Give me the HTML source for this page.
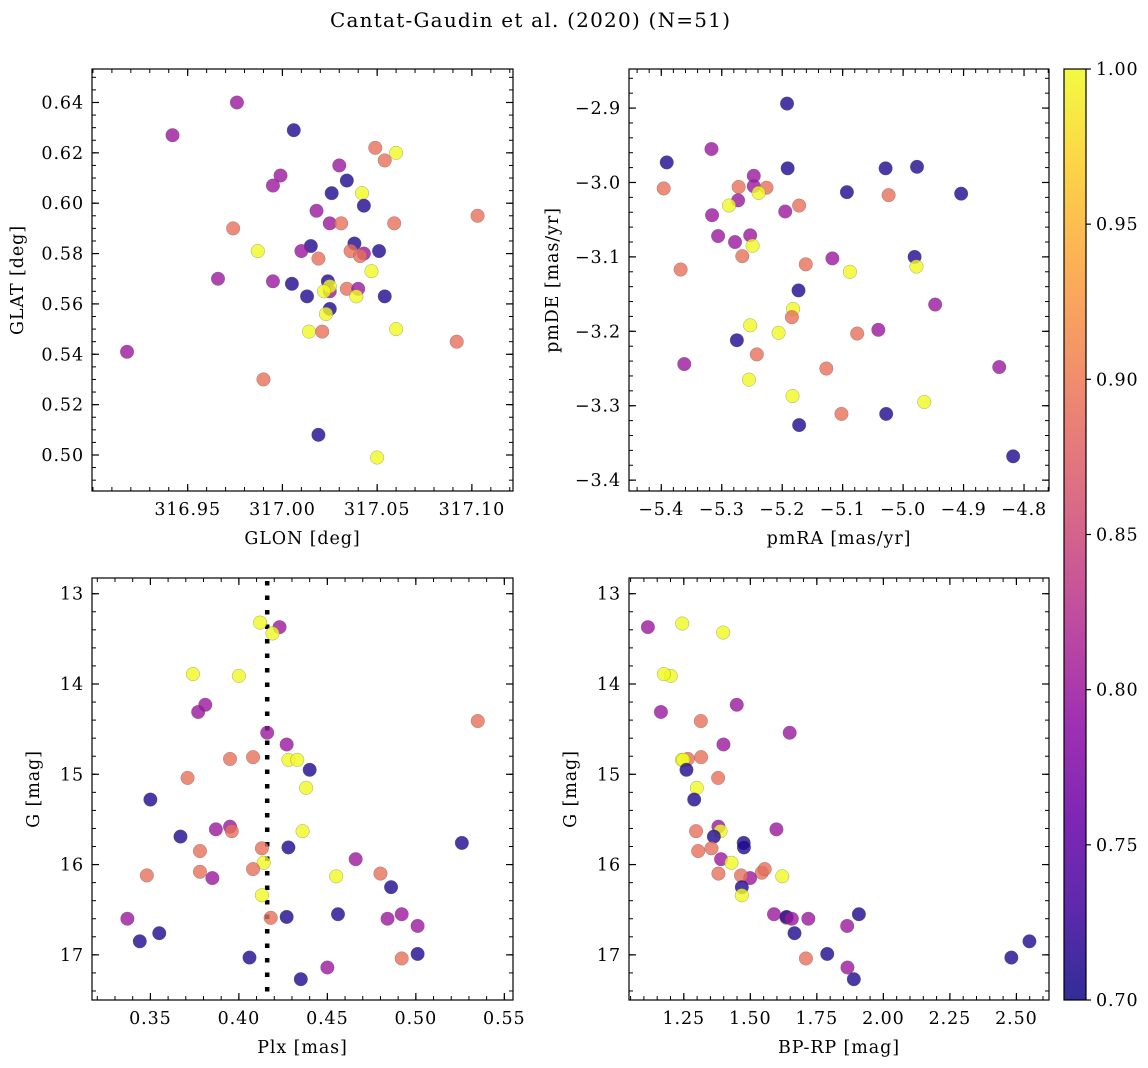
<!DOCTYPE html>
<html><head><meta charset="utf-8"><style>
html,body{margin:0;padding:0;background:#fff}
svg{display:block;font-family:"DejaVu Serif","Liberation Serif",serif}
</style></head><body>
<svg id="fig" width="1148" height="1068" viewBox="0 0 1148 1068" xmlns="http://www.w3.org/2000/svg">
<text x="530" y="27" text-anchor="middle" font-size="20" textLength="400" lengthAdjust="spacing">Cantat-Gaudin et al. (2020) (N=51)</text>
</svg>
<script>
// Panel 1: GLON / GLAT
const glon=[316.976,316.942,317.006,317.049,317.060,317.054,317.030,317.034,316.999,316.995,317.026,317.042,317.043,317.018,317.103,317.025,317.031,317.059,316.974,317.015,317.038,316.987,317.010,317.036,317.043,317.041,317.051,317.019,317.047,316.966,316.995,317.005,317.024,317.025,317.025,317.022,317.013,317.034,317.040,317.039,317.054,317.025,317.023,317.014,317.021,317.060,317.092,316.918,316.990,317.019,317.050];
const glat=[0.640,0.627,0.629,0.622,0.620,0.617,0.615,0.609,0.611,0.607,0.604,0.604,0.599,0.597,0.595,0.592,0.592,0.592,0.590,0.583,0.584,0.581,0.581,0.581,0.580,0.579,0.581,0.578,0.573,0.570,0.569,0.568,0.569,0.565,0.567,0.565,0.563,0.566,0.566,0.563,0.563,0.558,0.556,0.549,0.549,0.550,0.545,0.541,0.530,0.508,0.499];
const probA=[0.80,0.80,0.71,0.89,1.0,0.89,0.80,0.71,0.80,0.80,0.71,1.0,0.71,0.80,0.89,0.80,0.89,0.89,0.89,0.71,0.71,1.0,0.80,0.89,0.80,0.89,0.71,0.89,1.0,0.80,0.80,0.71,0.71,0.80,1.0,1.0,0.71,0.89,0.80,1.0,0.71,0.71,1.0,1.0,0.89,1.0,0.89,0.80,0.89,0.71,1.0];
// Panel 2: pmRA / pmDE
const pmra=[-5.192,-5.317,-5.391,-5.191,-5.029,-4.977,-5.396,-5.247,-5.247,-5.272,-5.226,-5.239,-5.273,-5.288,-5.093,-4.904,-5.024,-5.172,-5.195,-5.316,-5.306,-5.278,-5.253,-5.249,-5.266,-4.981,-4.978,-5.368,-5.161,-5.117,-5.088,-5.173,-4.947,-5.182,-5.184,-5.253,-5.206,-5.076,-5.041,-5.275,-5.242,-5.362,-5.127,-4.841,-5.255,-5.183,-4.965,-5.102,-5.028,-5.172,-4.818];
const pmde=[-2.894,-2.955,-2.973,-2.981,-2.981,-2.979,-3.008,-2.991,-3.005,-3.006,-3.007,-3.014,-3.024,-3.031,-3.013,-3.015,-3.017,-3.031,-3.039,-3.044,-3.072,-3.080,-3.071,-3.085,-3.099,-3.100,-3.113,-3.117,-3.110,-3.102,-3.120,-3.145,-3.164,-3.170,-3.181,-3.192,-3.202,-3.203,-3.198,-3.212,-3.231,-3.244,-3.250,-3.248,-3.265,-3.287,-3.295,-3.311,-3.311,-3.326,-3.368];
const probB=[0.71,0.80,0.71,0.71,0.71,0.71,0.89,0.80,0.80,0.89,0.89,1.0,0.80,1.0,0.71,0.71,0.89,0.89,0.80,0.80,0.80,0.80,0.80,1.0,0.89,0.71,1.0,0.89,0.89,0.80,1.0,0.71,0.80,1.0,0.89,1.0,1.0,0.89,0.80,0.71,0.89,0.80,0.89,0.80,1.0,1.0,1.0,0.89,0.71,0.71,0.71];
// Panels 3-4: Plx, G, BP-RP
const plx=[0.412,0.423,0.419,0.374,0.400,0.381,0.377,0.535,0.416,0.427,0.395,0.408,0.428,0.433,0.440,0.371,0.438,0.350,0.387,0.395,0.396,0.436,0.367,0.526,0.378,0.413,0.428,0.466,0.414,0.348,0.378,0.408,0.385,0.455,0.480,0.486,0.413,0.337,0.418,0.427,0.456,0.484,0.492,0.501,0.355,0.344,0.406,0.492,0.501,0.450,0.435];
const gmag=[13.32,13.37,13.44,13.89,13.91,14.23,14.31,14.41,14.54,14.67,14.83,14.81,14.84,14.84,14.95,15.04,15.15,15.28,15.61,15.58,15.63,15.63,15.69,15.76,15.85,15.82,15.81,15.94,15.98,16.12,16.08,16.05,16.15,16.13,16.10,16.25,16.34,16.60,16.59,16.58,16.55,16.60,16.55,16.68,16.76,16.85,17.03,17.04,16.99,17.14,17.27];
const probC=[1.0,0.80,1.0,1.0,1.0,0.80,0.80,0.89,0.80,0.80,0.89,0.89,1.0,1.0,0.71,0.89,1.0,0.71,0.80,0.80,0.89,1.0,0.71,0.71,0.89,0.89,0.71,0.80,1.0,0.89,0.89,0.89,0.80,1.0,0.89,0.71,1.0,0.80,0.89,0.71,0.71,0.80,0.80,0.80,0.71,0.71,0.71,0.89,0.71,0.80,0.71];
const gmagC=[13.33,13.37,13.43,13.91,13.89,14.23,14.31,14.41,14.54,14.67,14.81,14.83,14.84,14.84,14.95,15.04,15.15,15.28,15.61,15.58,15.63,15.63,15.69,15.76,15.85,15.82,15.81,15.94,15.98,16.09,16.10,16.05,16.15,16.13,16.12,16.25,16.34,16.55,16.59,16.58,16.55,16.60,16.60,16.68,16.76,16.85,17.03,17.04,16.99,17.14,17.27];
const bprp=[1.244,1.115,1.398,1.201,1.175,1.449,1.164,1.314,1.648,1.399,1.315,1.265,1.243,1.248,1.260,1.379,1.299,1.289,1.598,1.380,1.296,1.388,1.363,1.475,1.304,1.354,1.476,1.390,1.429,1.543,1.380,1.554,1.499,1.620,1.465,1.468,1.468,1.589,1.636,1.636,1.908,1.656,1.718,1.864,1.666,2.549,2.481,1.709,1.789,1.865,1.889];
const probD=[1.0,0.80,1.0,1.0,1.0,0.80,0.80,0.89,0.80,0.80,0.89,0.89,1.0,1.0,0.71,0.89,1.0,0.71,0.80,0.80,0.89,1.0,0.71,0.71,0.89,0.89,0.71,0.80,1.0,0.89,0.89,0.89,0.80,1.0,0.89,0.71,1.0,0.80,0.89,0.71,0.71,0.80,0.80,0.80,0.71,0.71,0.71,0.89,0.71,0.80,0.71];
const plxCut=[0.416];
const cbTicks=[0.70,0.75,0.80,0.85,0.90,0.95,1.00];

const NS="http://www.w3.org/2000/svg";
const svg=document.getElementById('fig');
const FS=17.5, LS=0.9;
function mk(tag,attrs,parent){const e=document.createElementNS(NS,tag);for(const k in attrs)e.setAttribute(k,attrs[k]);(parent||svg).appendChild(e);return e;}
const stops=[[13,8,135],[65,4,157],[106,0,168],[143,13,164],[177,42,144],[204,71,120],[225,100,98],[242,132,75],[252,166,54],[252,206,37],[240,249,33]];
function plasma(t){t=Math.max(0,Math.min(1,t));const f=t*10,i=Math.min(9,Math.floor(f)),r=f-i;const a=stops[i],b=stops[i+1];return 'rgb('+a.map((v,k)=>Math.round(v+(b[k]-v)*r)).join(',')+')';}
function cnorm(p){return (p-0.7)/0.3;}
function fmtMinus(s){return s.replace('-','\u2212');}

function panel(cfg){
  const g=mk('g',{});
  
  
  const L=cfg.box[0],T=cfg.box[1],R=cfg.box[2],B=cfg.box[3];
  const sx=v=>L+(v-cfg.xd[0])/(cfg.xd[1]-cfg.xd[0])*(R-L);
  const sy=v=>T+(cfg.yd[0]-v)/(cfg.yd[0]-cfg.yd[1])*(B-T);
  if(cfg.extra)cfg.extra(g,sx,sy,T,B);
  for(let i=0;i<cfg.x.length;i++){
    const c=mk('circle',{cx:sx(cfg.x[i]).toFixed(2),cy:sy(cfg.y[i]).toFixed(2),r:6.8,fill:plasma(cnorm(cfg.c[i])),'fill-opacity':0.8,stroke:'#555','stroke-opacity':0.5,'stroke-width':0.5},g);
    
    
  }
  const fr=mk('rect',{x:L,y:T,width:R-L,height:B-T,fill:'none',stroke:'#000','stroke-width':1.2},g);
  
  
  const eps=1e-9;
  function ticksX(step,len){const s=Math.ceil(cfg.xd[0]/step-eps);for(let k=s;k*step<=cfg.xd[1]+eps;k++){const x=sx(k*step);mk('line',{x1:x,x2:x,y1:B,y2:B-len,stroke:'#000','stroke-width':1},g);mk('line',{x1:x,x2:x,y1:T,y2:T+len,stroke:'#000','stroke-width':1},g);}}
  function ticksY(step,len){const lo=Math.min(cfg.yd[0],cfg.yd[1]),hi=Math.max(cfg.yd[0],cfg.yd[1]);const s=Math.ceil(lo/step-eps);for(let k=s;k*step<=hi+eps;k++){const y=sy(k*step);mk('line',{x1:L,x2:L+len,y1:y,y2:y,stroke:'#000','stroke-width':1},g);mk('line',{x1:R,x2:R-len,y1:y,y2:y,stroke:'#000','stroke-width':1},g);}}
  ticksX(cfg.xminor,4);ticksY(cfg.yminor,4);
  cfg.xt.forEach(v=>{const x=sx(v);mk('line',{x1:x,x2:x,y1:B,y2:B-7,stroke:'#000','stroke-width':1.2},g);mk('line',{x1:x,x2:x,y1:T,y2:T+7,stroke:'#000','stroke-width':1.2},g);
    const t=mk('text',{x:x,y:B+24,'text-anchor':'middle','font-size':FS,'letter-spacing':LS},g);t.textContent=fmtMinus(v.toFixed(cfg.xdec));
    });
  cfg.yt.forEach(v=>{const y=sy(v);mk('line',{x1:L,x2:L+7,y1:y,y2:y,stroke:'#000','stroke-width':1.2},g);mk('line',{x1:R,x2:R-7,y1:y,y2:y,stroke:'#000','stroke-width':1.2},g);
    const t=mk('text',{x:L-8,y:y+6,'text-anchor':'end','font-size':FS,'letter-spacing':LS},g);t.textContent=fmtMinus(v.toFixed(cfg.ydec));
    });
  const xl=mk('text',{x:(L+R)/2,y:B+53,'text-anchor':'middle','font-size':FS,'letter-spacing':LS},g);xl.textContent=cfg.xlabel;
  
  const yl=mk('text',{x:0,y:0,'text-anchor':'middle','font-size':FS,'letter-spacing':LS,transform:'translate('+cfg.ylx+','+((T+B)/2)+') rotate(-90)'},g);yl.textContent=cfg.ylabel;
  
}

panel({name:'glon-glat-panel',box:[92,69,513,491],xd:[316.8995,317.1217],yd:[0.6533,0.4857],x:glon,y:glat,c:probA,
  xt:[316.95,317.00,317.05,317.10],xdec:2,xminor:0.01,yt:[0.50,0.52,0.54,0.56,0.58,0.60,0.62,0.64],ydec:2,yminor:0.005,xlabel:'GLON [deg]',ylabel:'GLAT [deg]',ylx:23});
panel({name:'pm-panel',box:[629,69,1049,491],xd:[-5.4534,-4.7587],yd:[-2.8475,-3.4146],x:pmra,y:pmde,c:probB,
  xt:[-5.4,-5.3,-5.2,-5.1,-5.0,-4.9,-4.8],xdec:1,xminor:0.02,yt:[-2.9,-3.0,-3.1,-3.2,-3.3,-3.4],ydec:1,yminor:0.02,xlabel:'pmRA [mas/yr]',ylabel:'pmDE [mas/yr]',ylx:558});
panel({name:'plx-g-panel',box:[92,578,513,1000],xd:[0.317,0.5549],yd:[12.826,17.5],x:plx,y:gmag,c:probC,
  xt:[0.35,0.40,0.45,0.50,0.55],xdec:2,xminor:0.01,yt:[13,14,15,16,17],ydec:0,yminor:0.2,xlabel:'Plx [mas]',ylabel:'G [mag]',ylx:39,
  extra:(g,sx,sy,T,B)=>{plxCut.forEach(v=>{const l=mk('line',{x1:sx(v),x2:sx(v),y1:T+3,y2:B,stroke:'#000','stroke-width':4.5,'stroke-dasharray':'4.5 10'},g);});}});
panel({name:'cmd-panel',box:[629,578,1049,1000],xd:[1.044,2.6225],yd:[12.826,17.5],x:bprp,y:gmagC,c:probD,
  xt:[1.25,1.50,1.75,2.00,2.25,2.50],xdec:2,xminor:0.05,yt:[13,14,15,16,17],ydec:0,yminor:0.2,xlabel:'BP-RP [mag]',ylabel:'G [mag]',ylx:576});

// colorbar
const defs=mk('defs',{});
const lg=mk('linearGradient',{id:'cbg',x1:0,y1:1,x2:0,y2:0},defs);
for(let i=0;i<=20;i++){mk('stop',{offset:(i/20),'stop-color':plasma(i/20),'stop-opacity':0.85},lg);}
const cbT=69,cbB=1000,cbL=1064,cbR=1086;
const cb=mk('rect',{x:cbL,y:cbT,width:cbR-cbL,height:cbB-cbT,fill:'url(#cbg)',stroke:'#000','stroke-width':1.2});


cbTicks.forEach(v=>{const y=cbB-(v-0.7)/0.3*(cbB-cbT);mk('line',{x1:cbR,x2:cbR+5,y1:y,y2:y,stroke:'#000','stroke-width':1.2});
  const t=mk('text',{x:cbR+10,y:y+6,'font-size':FS,'letter-spacing':LS});t.textContent=v.toFixed(2);
  });
</script>
</body></html>
